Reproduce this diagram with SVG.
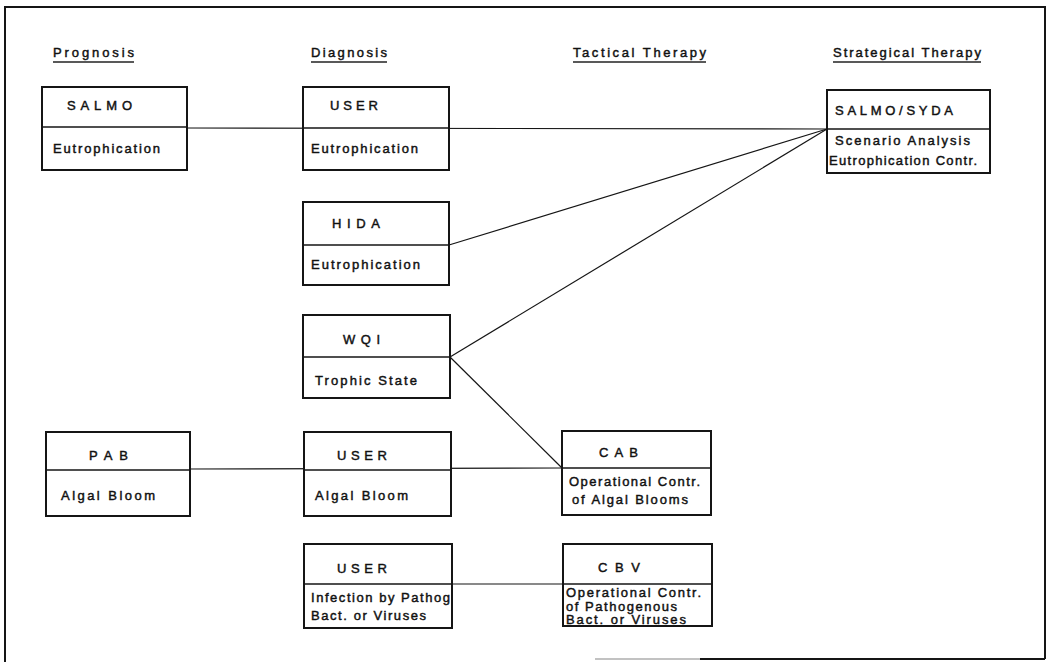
<svg xmlns="http://www.w3.org/2000/svg" width="1049" height="662" viewBox="0 0 1049 662">
  <style>
    .frame { fill: none; stroke: #151515; stroke-width: 2; }
    .box { fill: #ffffff; stroke: #151515; stroke-width: 2; }
    .div { stroke: #151515; stroke-width: 1.3; }
    .link { stroke: #151515; stroke-width: 1.2; fill: none; }
    .ul { stroke: #222; stroke-width: 1.6; }
    text { font-family: "Liberation Sans", Arial, sans-serif; font-size: 13px; fill: #111; stroke: #111; stroke-width: 0.45; }
  </style>

  <rect width="1049" height="662" fill="#ffffff"/>

  <!-- page frame (bottom edge only partly printed) -->
  <g id="frame">
    <polyline class="frame" points="5,662 5,7 1045,7 1045,659"/>
    <line x1="700" y1="659" x2="1045" y2="659" class="frame"/>
    <line x1="595" y1="659" x2="700" y2="659" stroke="#151515" stroke-width="1.5" stroke-opacity="0.35"/>
  </g>

  <!-- column headers -->
  <g id="headers">
    <text x="53" y="57" textLength="81" lengthAdjust="spacing">Prognosis</text>
    <line class="ul" x1="53" y1="62" x2="134" y2="62"/>
    <text x="311" y="57" textLength="76" lengthAdjust="spacing">Diagnosis</text>
    <line class="ul" x1="311" y1="62" x2="387" y2="62"/>
    <text x="573" y="57" textLength="133" lengthAdjust="spacing">Tactical Therapy</text>
    <line class="ul" x1="573" y1="62" x2="706" y2="62"/>
    <text x="833" y="57" textLength="148" lengthAdjust="spacing">Strategical Therapy</text>
    <line class="ul" x1="833" y1="62" x2="981" y2="62"/>
  </g>

  <!-- connectors -->
  <g id="connectors">
    <line class="link" x1="187" y1="128" x2="827" y2="129"/>
    <line class="link" x1="449" y1="245" x2="827" y2="129"/>
    <line class="link" x1="450" y1="357" x2="827" y2="129"/>
    <line class="link" x1="450" y1="357" x2="562" y2="468"/>
    <line class="link" x1="190" y1="469" x2="562" y2="468"/>
    <line class="link" x1="449" y1="584" x2="563" y2="584"/>
  </g>

  <!-- Prognosis: SALMO -->
  <g id="salmo">
    <rect class="box" x="42" y="87" width="145" height="83"/>
    <line class="div" x1="42" y1="127" x2="187" y2="127"/>
    <text x="67" y="110" textLength="65" lengthAdjust="spacing">SALMO</text>
    <text x="53" y="153" textLength="107" lengthAdjust="spacing">Eutrophication</text>
  </g>

  <!-- Diagnosis: USER / Eutrophication -->
  <g id="user-eutro">
    <rect class="box" x="303" y="87" width="146" height="83"/>
    <line class="div" x1="303" y1="128" x2="449" y2="128"/>
    <text x="330" y="110" textLength="48" lengthAdjust="spacing">USER</text>
    <text x="311" y="153" textLength="107" lengthAdjust="spacing">Eutrophication</text>
  </g>

  <!-- Diagnosis: HIDA -->
  <g id="hida">
    <rect class="box" x="303" y="202" width="146" height="83"/>
    <line class="div" x1="303" y1="245" x2="449" y2="245"/>
    <text x="332" y="228" textLength="48" lengthAdjust="spacing">HIDA</text>
    <text x="311" y="269" textLength="109" lengthAdjust="spacing">Eutrophication</text>
  </g>

  <!-- Diagnosis: WQI -->
  <g id="wqi">
    <rect class="box" x="303" y="315" width="147" height="83"/>
    <line class="div" x1="303" y1="357" x2="450" y2="357"/>
    <text x="343" y="344" textLength="37" lengthAdjust="spacing">WQI</text>
    <text x="315" y="385" textLength="102" lengthAdjust="spacing">Trophic State</text>
  </g>

  <!-- Prognosis: PAB -->
  <g id="pab">
    <rect class="box" x="46" y="432" width="144" height="84"/>
    <line class="div" x1="46" y1="470" x2="190" y2="470"/>
    <text x="89" y="460" textLength="39" lengthAdjust="spacing">PAB</text>
    <text x="61" y="500" textLength="94" lengthAdjust="spacing">Algal Bloom</text>
  </g>

  <!-- Diagnosis: USER / Algal Bloom -->
  <g id="user-algal">
    <rect class="box" x="304" y="432" width="147" height="84"/>
    <line class="div" x1="304" y1="470" x2="451" y2="470"/>
    <text x="337" y="460" textLength="50" lengthAdjust="spacing">USER</text>
    <text x="315" y="500" textLength="93" lengthAdjust="spacing">Algal Bloom</text>
  </g>

  <!-- Diagnosis: USER / Infection -->
  <g id="user-infection">
    <rect class="box" x="304" y="544" width="148" height="84"/>
    <line class="div" x1="304" y1="584" x2="452" y2="584"/>
    <text x="337" y="573" textLength="50" lengthAdjust="spacing">USER</text>
    <text x="311" y="602" textLength="139" lengthAdjust="spacing">Infection by Pathog</text>
    <text x="311" y="620" textLength="115" lengthAdjust="spacing">Bact. or Viruses</text>
  </g>

  <!-- Tactical Therapy: CAB -->
  <g id="cab">
    <rect class="box" x="562" y="431" width="149" height="84"/>
    <line class="div" x1="562" y1="468" x2="711" y2="468"/>
    <text x="599" y="457" textLength="39" lengthAdjust="spacing">CAB</text>
    <text x="569" y="486" textLength="131" lengthAdjust="spacing">Operational Contr.</text>
    <text x="572" y="504" textLength="116" lengthAdjust="spacing">of Algal Blooms</text>
  </g>

  <!-- Tactical Therapy: CBV -->
  <g id="cbv">
    <rect class="box" x="563" y="544" width="149" height="82"/>
    <line class="div" x1="563" y1="584" x2="712" y2="584"/>
    <text x="598" y="572" textLength="42" lengthAdjust="spacing">CBV</text>
    <text x="566" y="597" textLength="135" lengthAdjust="spacing">Operational Contr.</text>
    <text x="566" y="611" textLength="111" lengthAdjust="spacing">of Pathogenous</text>
    <text x="566" y="624" textLength="120" lengthAdjust="spacing">Bact. or  Viruses</text>
  </g>

  <!-- Strategical Therapy: SALMO/SYDA -->
  <g id="salmo-syda">
    <rect class="box" x="827" y="90" width="163" height="83"/>
    <line class="div" x1="827" y1="129" x2="990" y2="129"/>
    <text x="835" y="115" textLength="118" lengthAdjust="spacing">SALMO/SYDA</text>
    <text x="835" y="145" textLength="135" lengthAdjust="spacing">Scenario Analysis</text>
    <text x="829" y="165" textLength="148" lengthAdjust="spacing">Eutrophication Contr.</text>
  </g>
</svg>
